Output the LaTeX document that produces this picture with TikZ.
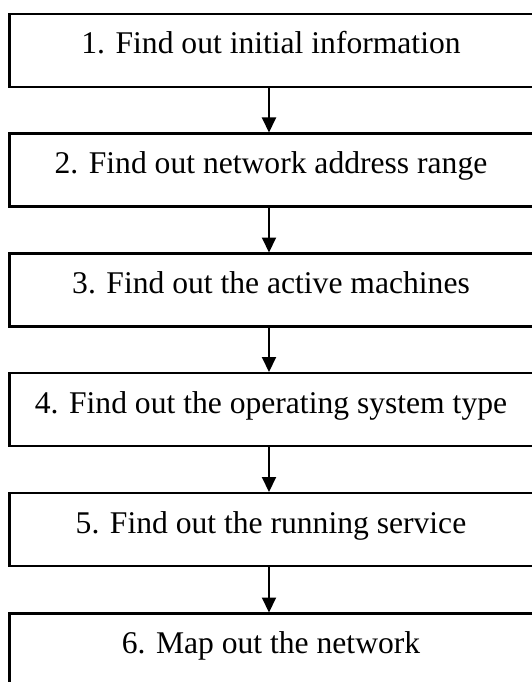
\documentclass[tikz,border=0pt]{standalone}
\usepackage{fontspec}
\setmainfont{Liberation Serif}
\usetikzlibrary{arrows.meta}
\begin{document}
\begin{tikzpicture}[x=1pt,y=-1pt,
  stepbox/.style={draw=black,line width=2.4pt,rectangle,anchor=north west,
    minimum width=526pt,minimum height=73pt,inner sep=0pt,outer sep=0pt},
  steptext/.style={anchor=base,inner sep=0pt,font=\fontsize{31.6}{38}\selectfont},
  arr/.style={line width=2pt,-{Triangle[length=15pt,width=14pt]},shorten >=1pt}]
\useasboundingbox (0,0) rectangle (531,682);
\node[stepbox] (b1) at (9.5,14) {};
\node[stepbox] (b2) at (9.5,133.5) {};
\node[stepbox] (b3) at (9.5,253.5) {};
\node[stepbox] (b4) at (9.5,373) {};
\node[stepbox] (b5) at (9.5,493) {};
\node[stepbox] (b6) at (9.5,613.5) {};
\node[steptext] (t1) at (271,54) {1. Find out initial information};
\node[steptext] (t2) at (271,173.5) {2. Find out network address range};
\node[steptext] (t3) at (271,293.5) {3. Find out the active machines};
\node[steptext] (t4) at (271,413) {4. Find out the operating system type};
\node[steptext] (t5) at (271,533) {5. Find out the running service};
\node[steptext] (t6) at (271,653.5) {6. Map out the network};
\coordinate (ax) at (269,0);
\draw[arr] (ax |- b1.south) -- (ax |- b2.north);
\draw[arr] (ax |- b2.south) -- (ax |- b3.north);
\draw[arr] (ax |- b3.south) -- (ax |- b4.north);
\draw[arr] (ax |- b4.south) -- (ax |- b5.north);
\draw[arr] (ax |- b5.south) -- (ax |- b6.north);
\end{tikzpicture}
\end{document}
